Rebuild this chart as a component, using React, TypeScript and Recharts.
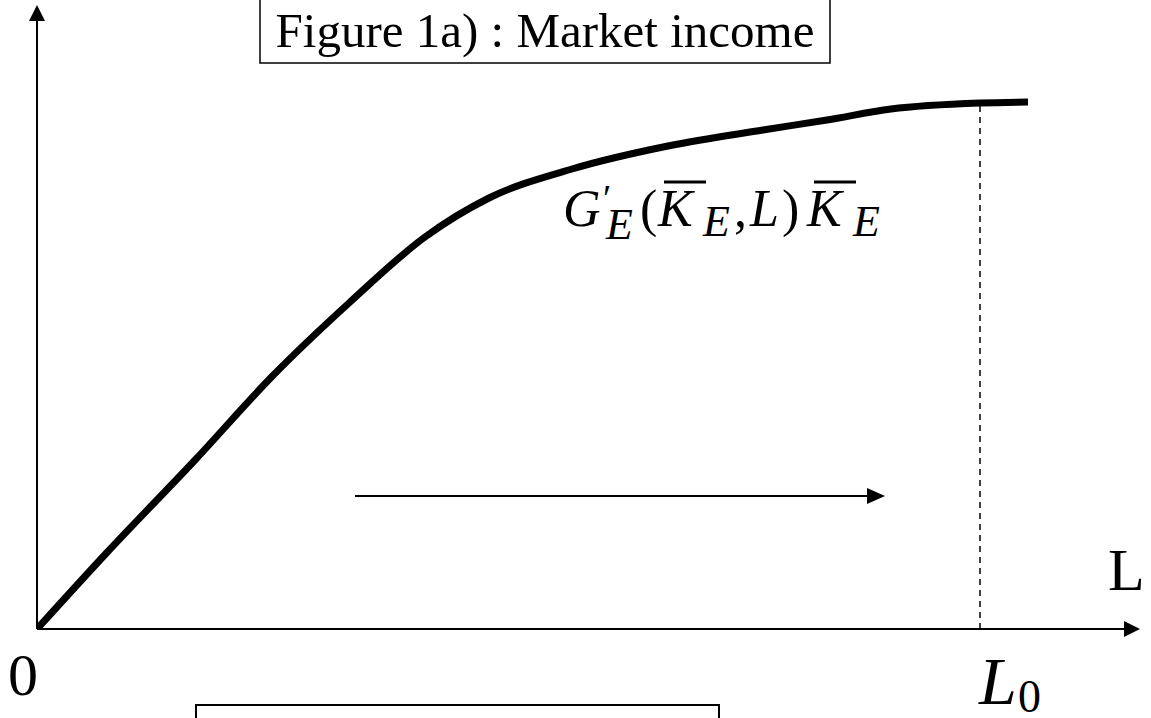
import React from 'react';
import { LineChart, Line, XAxis, YAxis, ReferenceLine } from 'recharts';

// curve (L on the x axis, market income on the y axis)
const labour = [0, 6.95, 15.9, 23.5, 31.2, 38.8, 45.2, 53.5, 63.1, 72.6, 79, 85.4, 94.3, 99.1];
const income = [0, 7.6, 17.0, 25.25, 32.6, 39.2, 43.1, 46.0, 48.3, 49.9, 50.9, 52.0, 52.6, 52.7];

const L_MAX = 110.4;
const Y_MAX = 62.4;
const L0 = 94.3;
const incomeAtL0 = 52.6;
const arrowFrom = 31.8;
const arrowTo = 84.8;
const arrowLevel = 13.3;

const data = labour.map((l, i) => ({ L: l, income: income[i] }));

const SERIF = "'Liberation Serif', 'Times New Roman', serif";

// line with a filled triangular head at its end
const arrowShape = (width: number, len: number, half: number) => (p: any) => {
  const { x1, y1, x2, y2 } = p;
  const dx = x2 - x1;
  const dy = y2 - y1;
  const d = Math.sqrt(dx * dx + dy * dy) || 1;
  const ux = dx / d;
  const uy = dy / d;
  const bx = x2 - ux * len;
  const by = y2 - uy * len;
  const px = -uy * half;
  const py = ux * half;
  return (
    <g>
      <line x1={x1} y1={y1} x2={bx} y2={by} stroke="#000" strokeWidth={width} />
      <polygon points={`${x2},${y2} ${bx + px},${by + py} ${bx - px},${by - py}`} fill="#000" />
    </g>
  );
};

export default function App() {
  return (
    <div style={{ position: 'absolute', left: 0, top: 0, width: 1151, height: 718, background: '#fff', overflow: 'hidden' }}>
      <LineChart width={1151} height={718} data={data} margin={{ top: 5, right: 10, bottom: 89, left: 37 }}>
        <XAxis type="number" dataKey="L" domain={[0, L_MAX]} allowDataOverflow hide />
        <YAxis type="number" domain={[0, Y_MAX]} allowDataOverflow hide />

        {/* axes with arrow heads */}
        <ReferenceLine
          segment={[{ x: 0, y: 0 }, { x: L_MAX - 0.1, y: 0 }]}
          ifOverflow="visible"
          shape={arrowShape(2, 16, 8)}
        />
        <ReferenceLine
          segment={[{ x: 0, y: 0 }, { x: 0, y: Y_MAX }]}
          ifOverflow="visible"
          shape={arrowShape(2, 16, 8)}
        />

        {/* dashed drop line at L0 */}
        <ReferenceLine
          segment={[{ x: L0, y: 0 }, { x: L0, y: incomeAtL0 }]}
          ifOverflow="visible"
          stroke="#000"
          strokeWidth={1.5}
          strokeDasharray="6 5"
        />

        {/* direction arrow */}
        <ReferenceLine
          segment={[{ x: arrowFrom, y: arrowLevel }, { x: arrowTo, y: arrowLevel }]}
          ifOverflow="visible"
          shape={arrowShape(2, 18, 8)}
        />

        <Line
          type="monotone"
          dataKey="income"
          stroke="#000"
          strokeWidth={7}
          dot={false}
          activeDot={false}
          isAnimationActive={false}
        />

        {/* title box */}
        <rect x={260} y={-2} width={570} height={65} fill="#fff" stroke="#000" strokeWidth={1.5} />
        <text x={545} y={47} textAnchor="middle" fontFamily={SERIF} fontSize={49} fill="#000">
          Figure 1a) : Market income
        </text>

        {/* curve label */}
        <g fontFamily={SERIF} fill="#000">
          <text x={563} y={226} fontSize={52} fontStyle="italic">G</text>
          <text x={603} y={211} fontSize={38}>′</text>
          <text x={606} y={239} fontSize={44} fontStyle="italic">E</text>
          <text x={640} y={226} fontSize={52}>(</text>
          <text x={658} y={226} fontSize={52} fontStyle="italic">K</text>
          <line x1={664} y1={182} x2={706} y2={182} stroke="#000" strokeWidth={3} />
          <text x={703} y={236} fontSize={44} fontStyle="italic">E</text>
          <text x={734} y={226} fontSize={52}>,</text>
          <text x={750} y={226} fontSize={52} fontStyle="italic">L</text>
          <text x={782} y={226} fontSize={52}>)</text>
          <text x={807} y={226} fontSize={52} fontStyle="italic">K</text>
          <line x1={814} y1={182} x2={856} y2={182} stroke="#000" strokeWidth={3} />
          <text x={853} y={236} fontSize={44} fontStyle="italic">E</text>
        </g>

        {/* axis labels */}
        <text x={8} y={695} fontFamily={SERIF} fontSize={60} fill="#000">0</text>
        <text x={1108} y={590} fontFamily={SERIF} fontSize={60} fill="#000">L</text>
        <text x={979} y={704} fontFamily={SERIF} fontSize={68} fontStyle="italic" fill="#000">L</text>
        <text x={1018} y={712} fontFamily={SERIF} fontSize={46} fill="#000">0</text>

        {/* empty box below the axis */}
        <rect x={196} y={705} width={523} height={30} fill="#fff" stroke="#000" strokeWidth={2} />
      </LineChart>
    </div>
  );
}
